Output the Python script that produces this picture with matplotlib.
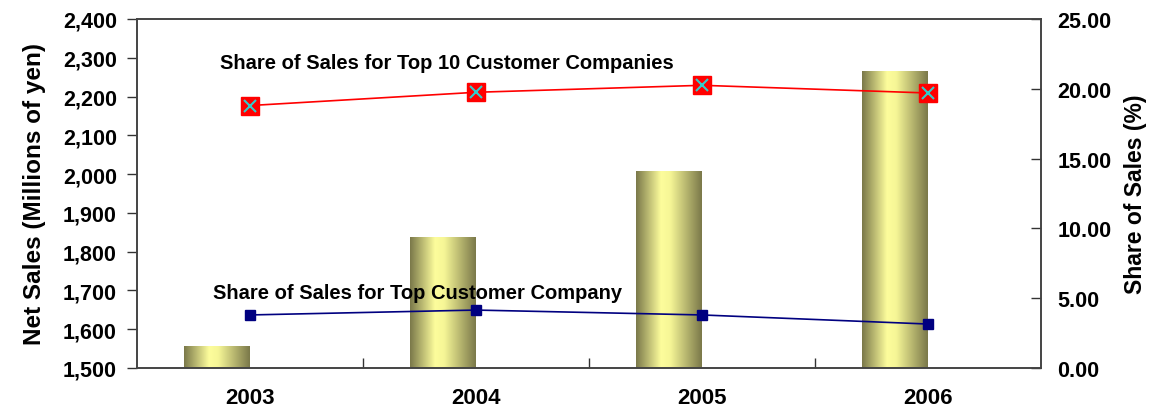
import numpy as np
import matplotlib.pyplot as plt
from matplotlib.colors import LinearSegmentedColormap
from matplotlib.ticker import FuncFormatter, FixedLocator

plt.rcParams['font.family'] = ['Liberation Sans', 'DejaVu Sans']
plt.rcParams['font.weight'] = 'bold'

years = ["2003", "2004", "2005", "2006"]
net_sales = [1557, 1838, 2008, 2266]
share_top10 = [18.8, 19.75, 20.25, 19.7]
share_top1 = [3.8, 4.15, 3.8, 3.15]

fig = plt.figure(figsize=(11.54, 4.14), dpi=100)
ax = fig.add_axes([0.1187, 0.1087, 0.7833, 0.843])
ax2 = ax.twinx()

base = 1500
x = np.arange(len(years))
bw = 0.292
bars = ax.bar(x - bw, np.array(net_sales) - base, bottom=base, width=bw, align='edge', color='none', zorder=2)

cmap = LinearSegmentedColormap.from_list('olive', [(0.0, '#7b794a'), (0.38, '#fdfd9c'), (0.52, '#f6f696'), (1.0, '#7b794a')])
grad = np.linspace(0, 1, 200).reshape(1, -1)
for b in bars:
    x0, y0 = b.get_x(), b.get_y()
    im = ax.imshow(grad, cmap=cmap, aspect='auto', extent=[x0, x0 + b.get_width(), y0, y0 + b.get_height()], zorder=2)
    im.set_clip_path(b)

ax.set_xlim(-0.5, 3.5)
ax.set_ylim(1500, 2400)
ax.set_yticks(np.arange(1500, 2401, 100))
ax.yaxis.set_major_formatter(FuncFormatter(lambda v, p: f"{int(v):,}"))
ax.tick_params(axis='y', direction='out', length=7, width=1, labelsize=15.5, pad=7.5, color='#333333')
ax.set_xticks(x)
ax.set_xticklabels(years)
ax.tick_params(axis='x', which='major', length=0, labelsize=16, pad=14)
ax.xaxis.set_minor_locator(FixedLocator([0.5, 1.5, 2.5]))
ax.tick_params(axis='x', which='minor', direction='in', length=7, width=1, color='#333333')
ax.set_ylabel('Net Sales (Millions of yen)', fontsize=17.5, fontweight='bold', labelpad=12)
ax.set_aspect('auto')

ax2.set_ylim(0, 25)
ax2.set_yticks(np.arange(0, 25.1, 5))
ax2.yaxis.set_major_formatter(FuncFormatter(lambda v, p: f"{v:.2f}"))
ax2.tick_params(axis='y', direction='in', length=7, width=1, labelsize=15.5, pad=12, color='#333333')
ax2.set_ylabel('Share of Sales (%)', fontsize=16.5, fontweight='bold', labelpad=9)

for a in (ax, ax2):
    for s in a.spines.values():
        s.set_color('#444444')
        s.set_linewidth(1.2)

ax2.plot(x, share_top10, color='#ff0000', lw=1.2, marker='s', markersize=12.5,
         markerfacecolor='#ff0000', markeredgecolor='#ff0000', zorder=3)
ax2.plot(x, share_top10, lw=0, marker='x', markersize=9, markeredgecolor='#33cccc', mew=1.5, zorder=4)
ax2.plot(x, share_top1, color='#000080', lw=1.2, marker='s', markersize=7,
         markerfacecolor='#000080', markeredgecolor='#000080', zorder=3)

ax2.text(-0.133, 21.85, 'Share of Sales for Top 10 Customer Companies', fontsize=14.5, fontweight='bold', va='center')
ax2.text(-0.164, 5.44, 'Share of Sales for Top Customer Company', fontsize=14.5, fontweight='bold', va='center')

fig.savefig('out.png', dpi=100)
